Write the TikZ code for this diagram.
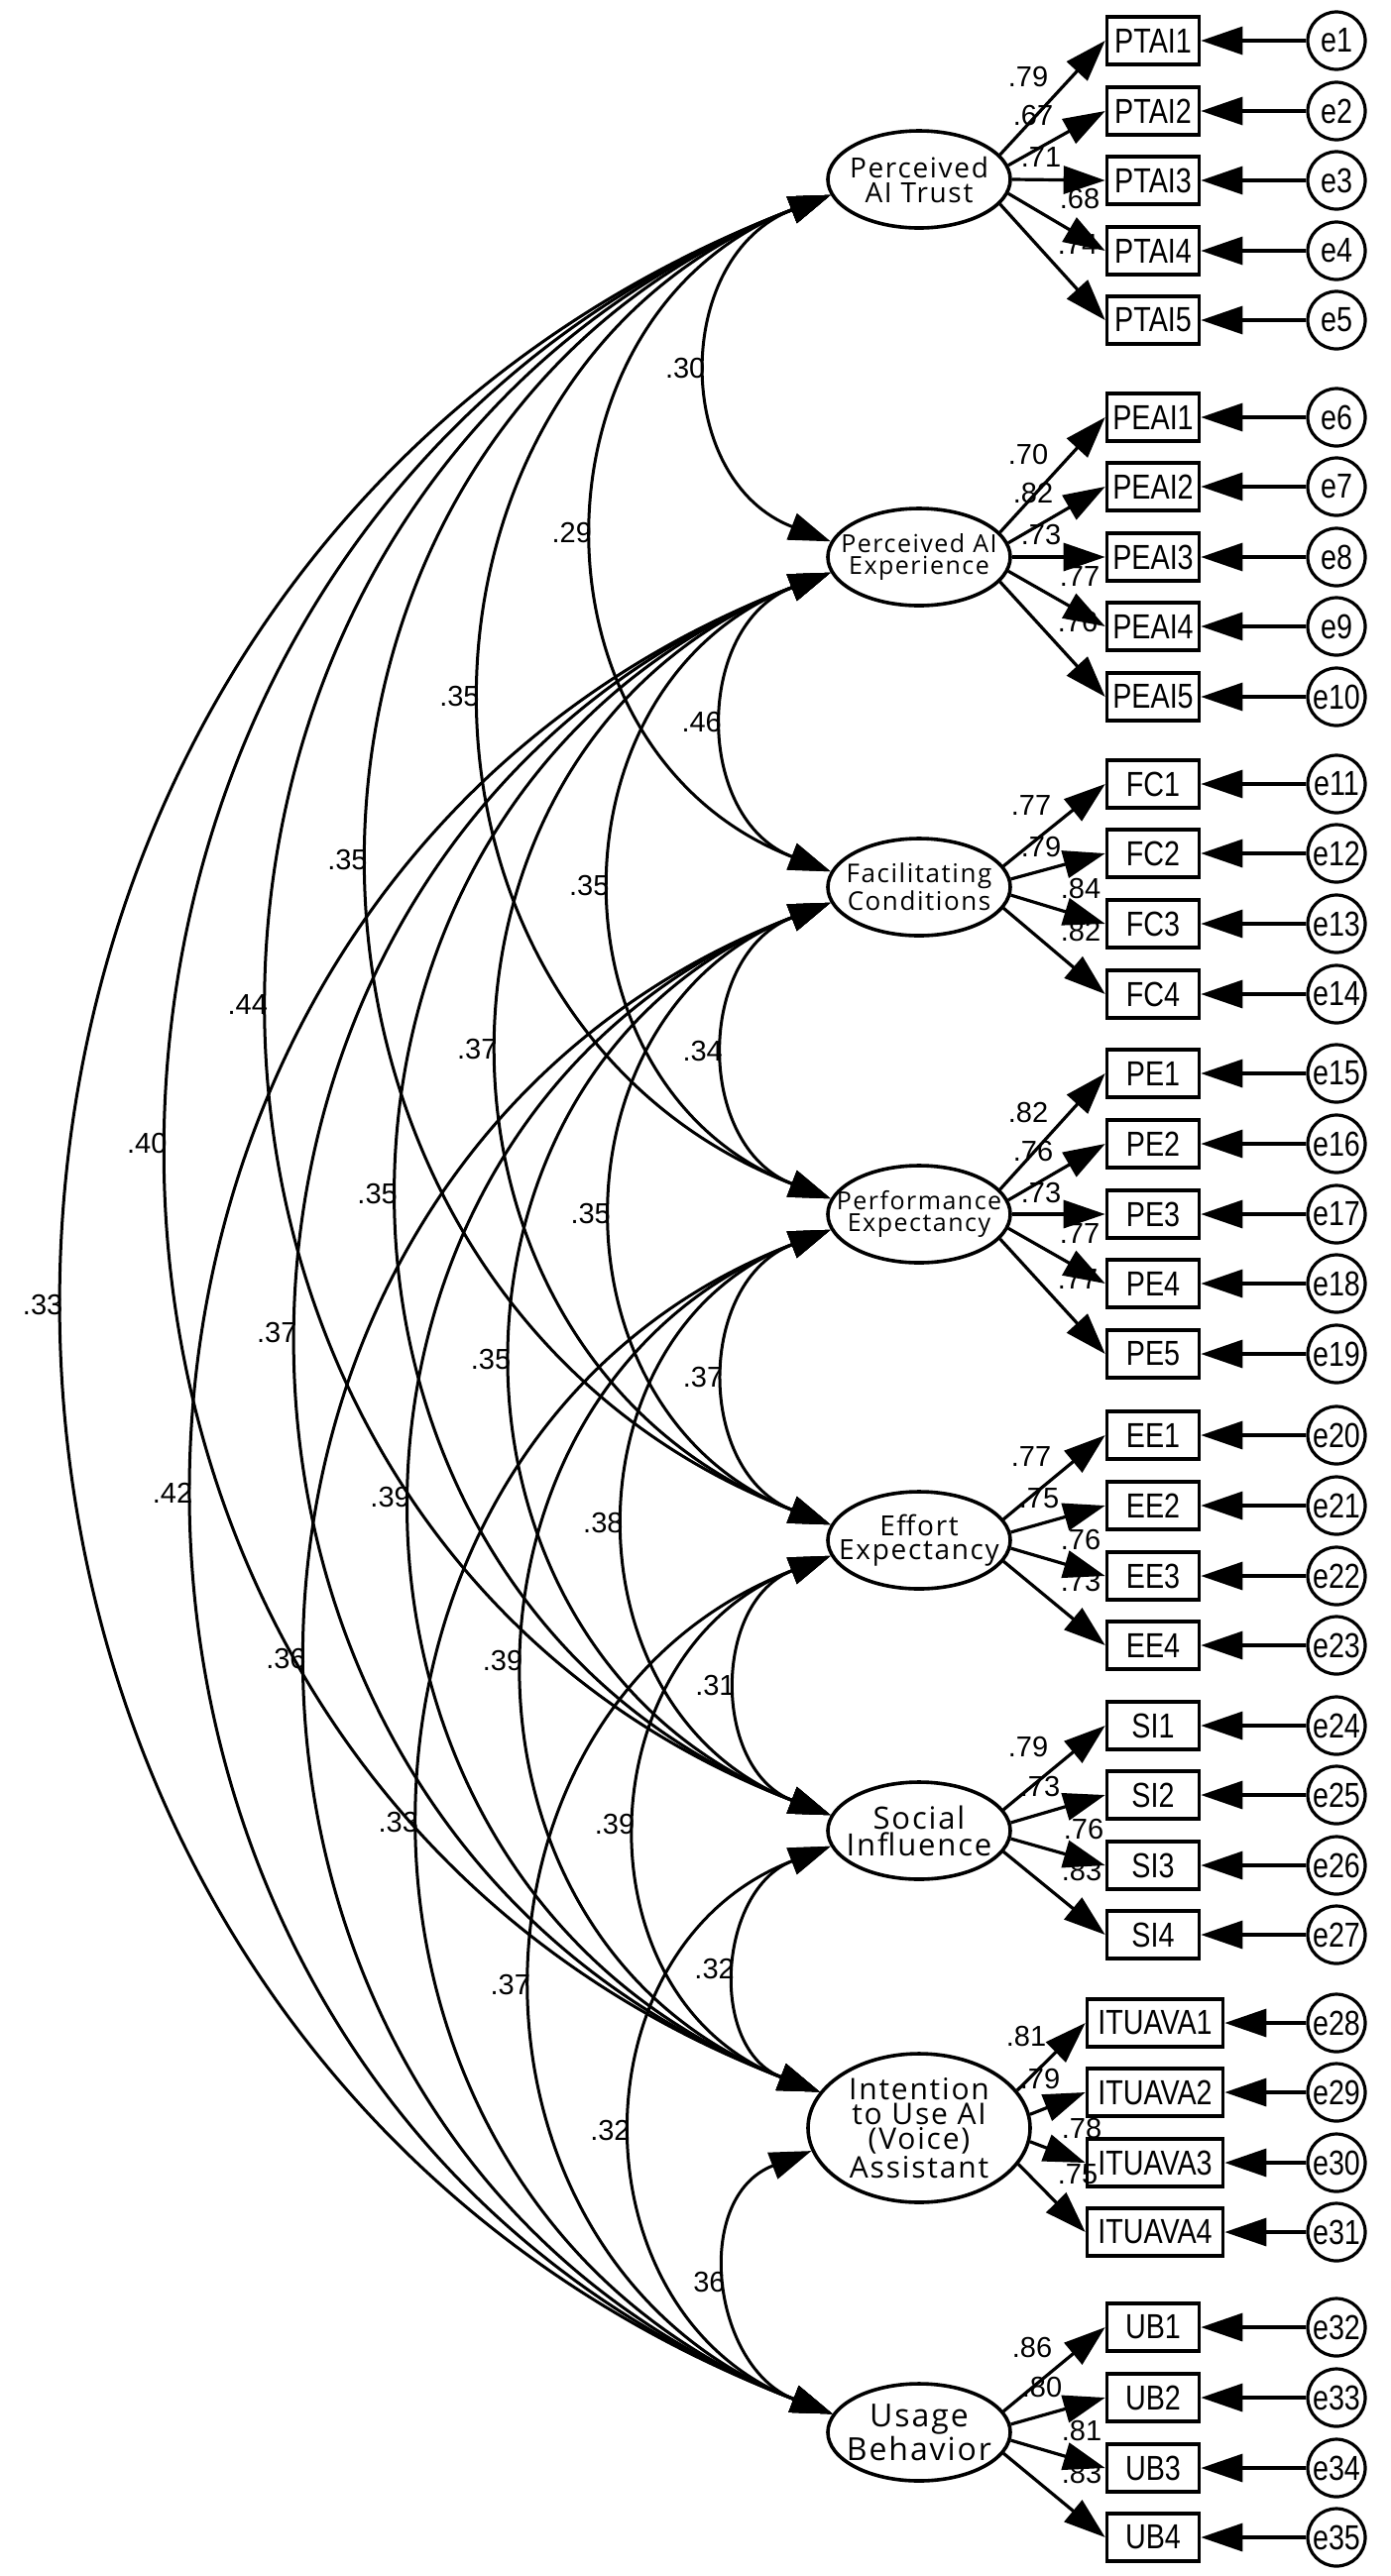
\documentclass[tikz,border=0pt]{standalone}
\usepackage{fontspec}
\usetikzlibrary{arrows.meta,shapes.geometric,calc}
\newfontfamily\latfont[LetterSpace=6]{Open Sans}
\newfontfamily\boxfont[FakeStretch=0.82]{Liberation Sans}
\newfontfamily\numfont{Liberation Sans}
\tikzset{
 lat/.style={draw, ellipse, line width=1.8pt, minimum width=92pt, minimum height=49pt, inner sep=0pt, fill=white},
 latbig/.style={lat, minimum width=112pt, minimum height=75pt},
 lattext/.style={align=center, inner sep=0pt},
 obs/.style={draw, rectangle, line width=1.8pt, minimum width=46.5pt, minimum height=24pt, inner sep=0pt, font=\boxfont\fontsize{17.5}{18}\selectfont, fill=white},
 obsw/.style={obs, minimum width=68.5pt},
 err/.style={draw, circle, line width=1.6pt, minimum size=29pt, inner sep=0pt, font=\boxfont\fontsize{17.5}{18}\selectfont, fill=white},
 arr/.style={line width=1.6pt, -{Triangle[length=21pt,width=14pt]}},
 cov/.style={line width=1.5pt, {Triangle[length=21pt,width=14pt]}-{Triangle[length=21pt,width=14pt]}},
 coef/.style={font=\numfont\fontsize{14.5}{16}\selectfont, inner sep=0pt},
 covlab/.style={font=\numfont\fontsize{14.5}{16}\selectfont, anchor=east, inner sep=3pt},
}
\begin{document}
\begin{tikzpicture}[x=0.5pt,y=0.5pt]
\useasboundingbox (0,0) rectangle (1403,-2599);
% latent variables
\node[lat] (L1) at (927,-181) {};
\node[lat] (L2) at (927,-562) {};
\node[lat] (L3) at (927,-895) {};
\node[lat] (L4) at (927,-1225) {};
\node[lat] (L5) at (927,-1554) {};
\node[lat] (L6) at (927,-1847) {};
\node[latbig] (L7) at (927,-2147) {};
\node[lat] (L8) at (927,-2454) {};
\node[lattext, font=\latfont\fontsize{14}{12.5}\selectfont] (T1) at (L1) {Perceived\\AI Trust};
\node[lattext, font=\latfont\fontsize{12.5}{11}\selectfont] (T2) at (L2) {Perceived AI\\Experience};
\node[lattext, font=\latfont\fontsize{13}{11.5}\selectfont] (T3) at (L3) {Facilitating\\Conditions};
\node[lattext, font=\latfont\fontsize{12.5}{11}\selectfont] (T4) at (L4) {Performance\\Expectancy};
\node[lattext, font=\latfont\fontsize{14}{12}\selectfont] (T5) at (L5) {Effort\\Expectancy};
\node[lattext, font=\latfont\fontsize{15.5}{13.5}\selectfont] (T6) at (L6) {Social\\Influence};
\node[lattext, font=\latfont\fontsize{15}{12.5}\selectfont] (T7) at (L7) {Intention\\to Use AI\\(Voice)\\Assistant};
\node[lattext, font=\latfont\fontsize{16}{14}\selectfont] (T8) at (L8) {Usage\\Behavior};
% observed variables and errors
\foreach \n/\y/\e in {PTAI1/41/1,PTAI2/112/2,PTAI3/182/3,PTAI4/253/4,PTAI5/323/5,
  PEAI1/421/6,PEAI2/491/7,PEAI3/562/8,PEAI4/632/9,PEAI5/703/10,
  FC1/791/11,FC2/861/12,FC3/932/13,FC4/1003/14,
  PE1/1083/15,PE2/1154/16,PE3/1225/17,PE4/1295/18,PE5/1366/19,
  EE1/1448/20,EE2/1519/21,EE3/1590/22,EE4/1660/23,
  SI1/1741/24,SI2/1811/25,SI3/1882/26,SI4/1952/27,
  UB1/2348/32,UB2/2419/33,UB3/2490/34,UB4/2560/35}{
  \node[obs] (\n) at (1163,-\y) {\n};
  \node[err] (e\e) at (1348,-\y) {e\e};
}
\foreach \n/\y/\e in {ITUAVA1/2041/28,ITUAVA2/2111/29,ITUAVA3/2182/30,ITUAVA4/2252/31}{
  \node[obsw] (\n) at (1165,-\y) {\n};
  \node[err] (e\e) at (1348,-\y) {e\e};
}
% loading labels
\foreach \L/\dx/\dy/\t [count=\k] in {
  1/110/103/.79,1/115/64/.67,1/123/22/.71,1/162/-20/.68,1/160/-66/.74,
  2/110/103/.70,2/115/64/.82,2/123/22/.73,2/162/-20/.77,2/160/-66/.76,
  3/113/82/.77,3/123/41/.79,3/163/-1/.84,3/163/-44/.82,
  4/110/103/.82,4/115/64/.76,4/123/22/.73,4/162/-20/.77,4/160/-66/.77,
  5/113/84/.77,5/121/42/.75,5/163/1/.76,5/163/-41/.73,
  6/110/85/.79,6/122/45/.73,6/166/2/.76,6/164/-40/.83,
  7/108/93/.81,7/122/50/.79,7/164/0/.78,7/160/-47/.75,
  8/114/86/.86,8/124/46/.80,8/164/2/.81,8/164/-41/.83}{
  \node[coef] (cl\k) at ($(L\L)+(\dx,\dy)$) {\t};
}
% loadings
\foreach \b/\a in {PTAI1/17,PTAI2/9,PTAI3/0,PTAI4/351,PTAI5/343}{\draw[arr] (L1.\a) -- (\b.west);}
\foreach \b/\a in {PEAI1/17,PEAI2/9,PEAI3/0,PEAI4/351,PEAI5/343}{\draw[arr] (L2.\a) -- (\b.west);}
\foreach \b/\a in {FC1/14,FC2/5,FC3/355,FC4/346}{\draw[arr] (L3.\a) -- (\b.west);}
\foreach \b/\a in {PE1/17,PE2/9,PE3/0,PE4/351,PE5/343}{\draw[arr] (L4.\a) -- (\b.west);}
\foreach \b/\a in {EE1/14,EE2/5,EE3/355,EE4/346}{\draw[arr] (L5.\a) -- (\b.west);}
\foreach \b/\a in {SI1/14,SI2/5,SI3/355,SI4/346}{\draw[arr] (L6.\a) -- (\b.west);}
\foreach \b/\a in {ITUAVA1/21,ITUAVA2/7,ITUAVA3/353,ITUAVA4/340}{\draw[arr] (L7.\a) -- (\b.west);}
\foreach \b/\a in {UB1/14,UB2/5,UB3/355,UB4/346}{\draw[arr] (L8.\a) -- (\b.west);}
% error arrows
\foreach \n/\e in {PTAI1/1,PTAI2/2,PTAI3/3,PTAI4/4,PTAI5/5,PEAI1/6,PEAI2/7,PEAI3/8,PEAI4/9,PEAI5/10,
  FC1/11,FC2/12,FC3/13,FC4/14,PE1/15,PE2/16,PE3/17,PE4/18,PE5/19,EE1/20,EE2/21,EE3/22,EE4/23,
  SI1/24,SI2/25,SI3/26,SI4/27,ITUAVA1/28,ITUAVA2/29,ITUAVA3/30,ITUAVA4/31,UB1/32,UB2/33,UB3/34,UB4/35}{
  \draw[arr] (e\e) -- (\n);
}
% covariance attachment points
\coordinate (o1) at (L1.190);
\coordinate (o2) at (L2.190);
\coordinate (o3) at (L3.190);
\coordinate (o4) at (L4.190);
\coordinate (o5) at (L5.190);
\coordinate (o6) at (L6.190);
\coordinate (o7) at (L7.192);
\coordinate (i2) at (L2.170);
\coordinate (i3) at (L3.170);
\coordinate (i4) at (L4.170);
\coordinate (i5) at (L5.170);
\coordinate (i6) at (L6.170);
\coordinate (i7) at (L7.160);
\coordinate (i8) at (L8.168);
\foreach \a/\b/\v [count=\k] in {1/2/.30,1/3/.29,1/4/.35,1/5/.35,1/6/.44,1/7/.40,1/8/.33,
  2/3/.46,2/4/.35,2/5/.37,2/6/.35,2/7/.37,2/8/.42,
  3/4/.34,3/5/.35,3/6/.35,3/7/.39,3/8/.36,
  4/5/.37,4/6/.38,4/7/.39,4/8/.33,
  5/6/.31,5/7/.39,5/8/.37,
  6/7/.32,6/8/.32,
  7/8/36}{
  \draw[cov] let \p1=(o\a), \p2=(i\b), \n1={0.4906*(\y1-\y2)} in
    (\p1) .. controls ($(\p1)+(201:\n1)$) and ($(\p2)+(159:\n1)$) .. (\p2);
  \path let \p1=(o\a), \p2=(i\b), \n1={0.4906*(\y1-\y2)} in
    node[covlab] (cv\k) at ({0.5*\x1+0.5*\x2-0.7002*\n1},{0.5*\y1+0.5*\y2}) {\v};
}
\end{tikzpicture}
\end{document}
